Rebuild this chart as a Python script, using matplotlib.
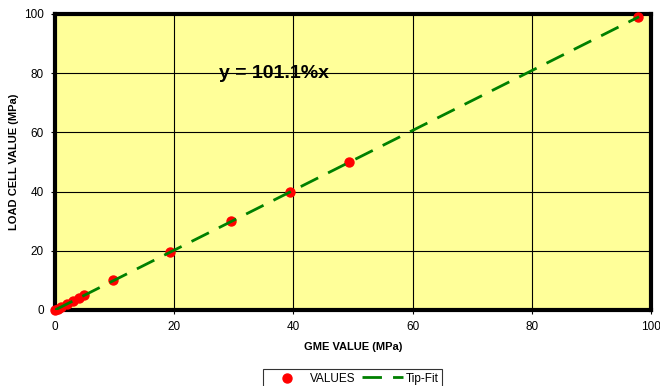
import matplotlib
matplotlib.use("Agg")
import matplotlib.pyplot as plt
import numpy as np

plt.rcParams['font.family'] = ['Liberation Sans', 'DejaVu Sans']

gme = [0, 0.5, 1.0, 2.0, 3.0, 4.0, 4.9, 9.8, 19.3, 29.6, 39.4, 49.3, 97.9]
load = [0, 0.5, 1.0, 2.0, 3.0, 4.0, 5.0, 10.0, 19.5, 30.0, 40.0, 50.0, 99.0]
slope = 1.011
fit_x = [0, 98]
xticks = [0, 20, 40, 60, 80, 100]
yticks = [0, 20, 40, 60, 80, 100]

fig = plt.figure(figsize=(6.6, 3.86), dpi=100)
ax = fig.add_axes([55/660, 1-310/386, (651-55)/660, (310-14)/386])
ax.set_facecolor('#FFFF99')
ax.set_xlim(0, 100)
ax.set_ylim(0, 100)
ax.set_xticks(xticks)
ax.set_yticks(yticks)
ax.grid(True, color='black', linewidth=0.8)
ax.set_axisbelow(True)
for s in ax.spines.values():
    s.set_linewidth(3)
    s.set_color('black')
ax.tick_params(direction='out', length=3, width=0.8, labelsize=8.5, pad=5)

ax.scatter(gme, load, s=42, color='red', zorder=3, label='VALUES', clip_on=False)
fx = np.array(fit_x, dtype=float)
ax.plot(fx, fx * slope, color='green', linestyle=(0, (7, 4)), linewidth=2,
        zorder=4, label='Tip-Fit')

ax.text(27.6, 80, 'y = 101.1%x', fontsize=14, fontweight='bold', va='center', ha='left')

ax.set_xlabel('GME VALUE (MPa)', fontsize=8, fontweight='bold')
ax.xaxis.set_label_coords(0.5, -(342-310)/296, transform=ax.transAxes)
ax.set_ylabel('LOAD CELL VALUE (MPa)', fontsize=8, fontweight='bold')
ax.yaxis.set_label_coords(-(55-19)/596, 0.5)

leg = fig.legend(loc='upper left', bbox_to_anchor=(263/660, 1-369/386), ncol=2,
                 fontsize=8.5, frameon=True, fancybox=False, edgecolor='black',
                 borderpad=0.3, handlelength=3.5, columnspacing=0.5,
                 handletextpad=0.2, borderaxespad=0)
leg.get_frame().set_linewidth(0.8)

fig.savefig('out.png', dpi=100)
